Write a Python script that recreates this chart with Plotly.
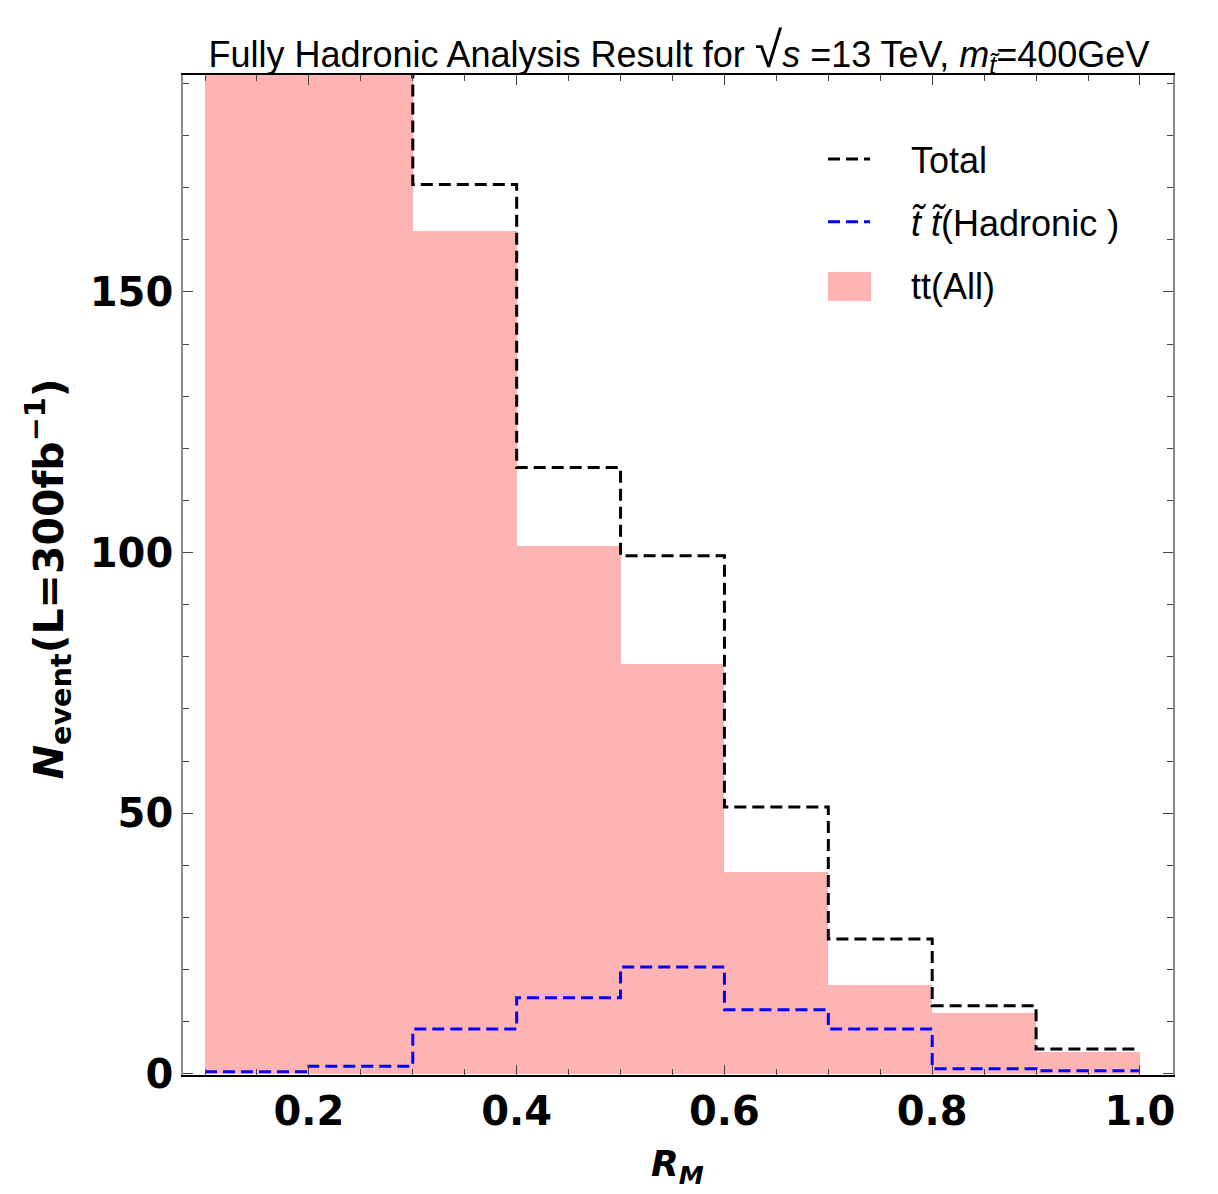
import plotly.graph_objects as go

# bin edges of R_M
edges = [0.1, 0.2, 0.3, 0.4, 0.5, 0.6, 0.7, 0.8, 0.9, 1.0]
# event counts per bin (first two bins exceed the plotted range)
tt_all = [260.0, 230.0, 161.6, 101.2, 78.7, 38.8, 17.1, 11.7, 4.2]
stop_hadronic = [0.4, 1.5, 8.6, 14.6, 20.5, 12.3, 8.6, 1.0, 0.6]
total = [260.4, 231.5, 170.6, 116.3, 99.4, 51.2, 25.9, 13.1, 4.8]

x_ticks = [0.2, 0.4, 0.6, 0.8, 1.0]
x_ticktext = ["0.2", "0.4", "0.6", "0.8", "1.0"]
y_ticks = [0, 50, 100, 150]
y_ticktext = ["0", "50", "100", "150"]

centers = [(edges[i] + edges[i + 1]) / 2 for i in range(len(edges) - 1)]
widths = [edges[i + 1] - edges[i] for i in range(len(edges) - 1)]

PINK = "#FFB4B4"
GAP = "\u2002\u2002"
fig = go.Figure()

fig.add_trace(go.Scatter(
    x=edges, y=total + [total[-1]], mode="lines", line_shape="hv",
    line=dict(color="black", width=3, dash="12px,6px"),
    name=GAP + "Total", legendgroup="a",
))
fig.add_trace(go.Scatter(
    x=edges, y=stop_hadronic + [stop_hadronic[-1]], mode="lines", line_shape="hv",
    line=dict(color="#0000FF", width=3, dash="12px,6px"),
    name=GAP + "<i>t̃</i> <i>t̃</i>(Hadronic )", legendgroup="b",
))
fig.add_trace(go.Bar(
    x=centers, y=tt_all, width=widths,
    marker=dict(color=PINK, line=dict(width=0)),
    name="tt(All)", legendgroup="c", showlegend=False,
))
# legend entry for the filled histogram
fig.add_trace(go.Scatter(
    x=[None], y=[None], mode="markers",
    marker=dict(symbol="square", size=40, color=PINK),
    name=GAP + "tt(All)", legendgroup="c",
))

sans = "Liberation Sans, Arial, sans-serif"
bold = "DejaVu Sans, sans-serif"

fig.update_layout(
    width=1210, height=1186,
    margin=dict(l=175, r=45, t=67, b=119),
    plot_bgcolor="white", paper_bgcolor="white",
    bargap=0,
    showlegend=True,
    legend=dict(
        x=0.6465, y=0.946, xanchor="left", yanchor="top",
        font=dict(family=sans, size=36, color="black"),
        traceorder="grouped", tracegroupgap=13,
        itemsizing="trace", itemwidth=42,
        bgcolor="rgba(0,0,0,0)",
    ),
    title=dict(
        text="Fully Hadronic Analysis Result for <span style='font-size:50px'>√</span><i>s</i> =13 TeV, <i>m</i><sub><i>t̃</i></sub>=400GeV",
        x=0.5545, xanchor="center", xref="container",
        y=0.961, yanchor="middle", yref="container",
        font=dict(family=sans, size=36, color="black"),
    ),
    # enlarged swatch for the filled histogram legend entry
    shapes=[dict(
        type="rect", xref="paper", yref="paper",
        x0=0.6515, x1=0.695, y0=0.774, y1=0.803,
        fillcolor=PINK, line=dict(width=0), layer="above",
    )],
)

fig.update_xaxes(
    range=[0.0788, 1.0318],
    tickvals=x_ticks, ticktext=x_ticktext,
    ticks="inside", ticklen=10, tickwidth=1.2, tickcolor="#444",
    minor=dict(dtick=0.05, tick0=0, ticks="inside", ticklen=6, tickcolor="#444", tickwidth=1),
    showline=True, linecolor="black", linewidth=1.5, mirror="ticks",
    showgrid=False, zeroline=False,
    tickfont=dict(family=bold, size=40, color="black", weight="bold"),
    ticklabelstandoff=0,
)
fig.update_yaxes(
    range=[-0.2, 191.6],
    tickvals=y_ticks, ticktext=y_ticktext,
    ticks="inside", ticklen=10, tickwidth=1.2, tickcolor="#444",
    minor=dict(dtick=10, tick0=0, ticks="inside", ticklen=6, tickcolor="#444", tickwidth=1),
    showline=True, linecolor="#888", linewidth=1.5, mirror="ticks",
    showgrid=False, zeroline=False,
    tickfont=dict(family=bold, size=40, color="black", weight="bold"),
    ticklabelstandoff=0,
)

fig.add_annotation(
    text="<b><i>N</i><sub>event</sub>(L=300fb<sup>−1</sup>)</b>",
    xref="paper", yref="paper", x=-0.136, y=0.496, textangle=-90,
    showarrow=False, xanchor="center", yanchor="middle",
    font=dict(family=bold, size=41, color="black"),
)
fig.add_annotation(
    text="<b><i>R<sub>M</sub></i></b>",
    xref="paper", yref="paper", x=0.4995, y=-0.091,
    showarrow=False, xanchor="center", yanchor="middle",
    font=dict(family=bold, size=36, color="black"),
)

fig.write_html("out.html")
